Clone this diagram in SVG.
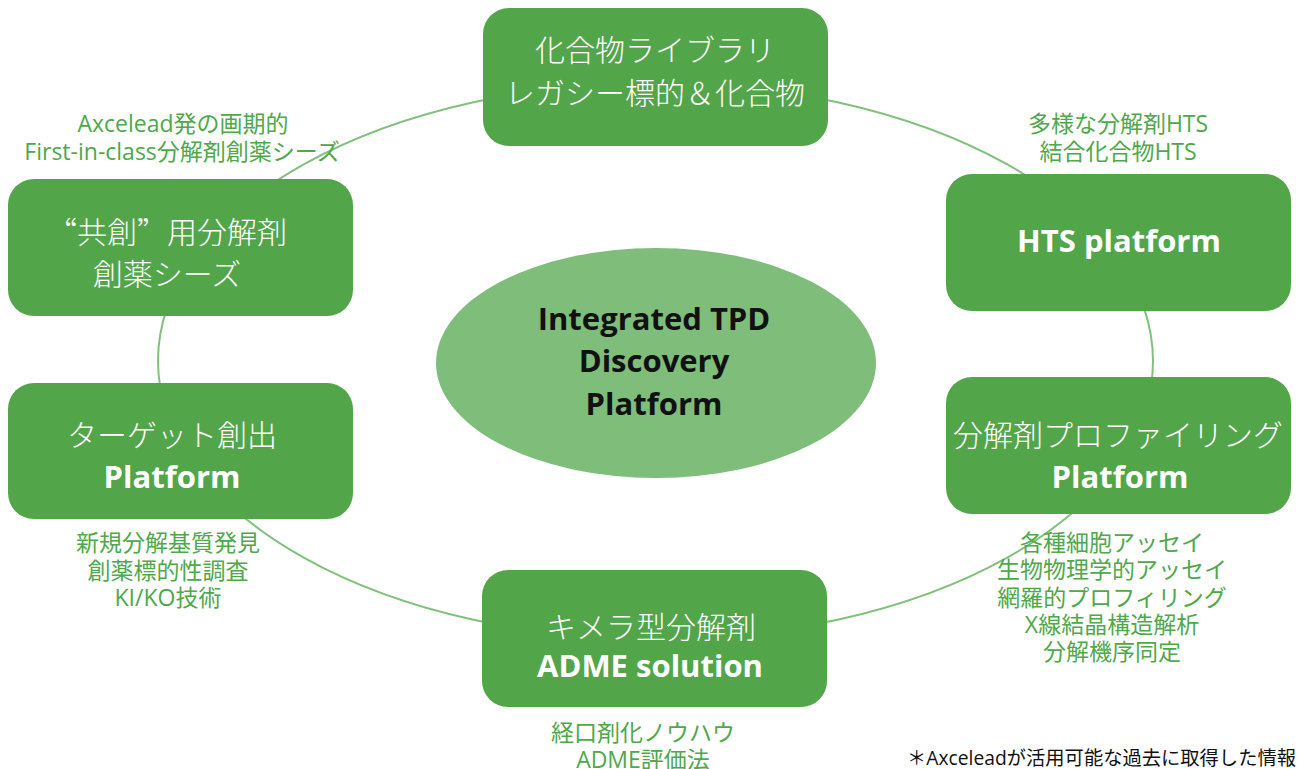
<svg xmlns="http://www.w3.org/2000/svg" width="1299" height="769" viewBox="0 0 1299 769">
  <style>
    .node { fill: #53a54a; }
    .ring { fill: none; stroke: #80c17c; stroke-width: 2; }
    .jp { font-family: "Noto Sans CJK JP", "Open Sans", sans-serif; font-weight: 300; font-size: 30px; fill: #ffffff; text-anchor: middle; }
    .fw { font-feature-settings: "fwid"; }
    .en { font-family: "Open Sans", "Noto Sans CJK JP", sans-serif; font-weight: 700; font-size: 31px; fill: #ffffff; text-anchor: middle; }
    .note { font-family: "Open Sans", "Noto Sans CJK JP", sans-serif; font-size: 23px; fill: #4fa84a; text-anchor: middle; }
    .hub { font-family: "Open Sans", sans-serif; font-weight: 700; font-size: 31px; fill: #111111; text-anchor: middle; }
    .foot { font-family: "Open Sans", "Noto Sans CJK JP", sans-serif; font-size: 19.3px; fill: #111111; text-anchor: end; }
  </style>

  <rect width="1299" height="769" fill="#ffffff"/>

  <!-- ring linking the six platforms -->
  <g id="connectors">
    <ellipse class="ring" cx="655.5" cy="361" rx="497.5" ry="278"/>
  </g>

  <!-- hub -->
  <g id="hub">
    <ellipse cx="656" cy="363" rx="220" ry="115" fill="#7ebd7a"/>
    <text class="hub" x="654" y="330">Integrated TPD</text>
    <text class="hub" x="654" y="372">Discovery</text>
    <text class="hub" x="654" y="415">Platform</text>
  </g>

  <g id="node-library">
    <rect class="node" x="483" y="8" width="345" height="138" rx="26"/>
    <text class="jp" x="655" y="61">化合物ライブラリ</text>
    <text class="jp" x="655" y="104">レガシー標的＆化合物</text>
  </g>

  <g id="node-hts">
    <rect class="node" x="946" y="174" width="345" height="137" rx="26"/>
    <text class="en" x="1119" y="252">HTS platform</text>
  </g>

  <g id="node-profiling">
    <rect class="node" x="946" y="377" width="345" height="137" rx="26"/>
    <text class="jp" x="1118" y="446">分解剤プロファイリング</text>
    <text class="en" x="1120" y="488">Platform</text>
  </g>

  <g id="node-adme">
    <rect class="node" x="482" y="570" width="345" height="137" rx="26"/>
    <text class="jp" x="651" y="638">キメラ型分解剤</text>
    <text class="en" x="650" y="677">ADME solution</text>
  </g>

  <g id="node-target">
    <rect class="node" x="8" y="383" width="345" height="136" rx="26"/>
    <text class="jp" x="172" y="446">ターゲット創出</text>
    <text class="en" x="172" y="488">Platform</text>
  </g>

  <g id="node-seeds">
    <rect class="node" x="8" y="179" width="345" height="137" rx="26"/>
    <text class="jp fw" x="167" y="243">“共創”用分解剤</text>
    <text class="jp" x="167" y="285">創薬シーズ</text>
  </g>

  <!-- annotations -->
  <g id="notes">
    <text class="note" x="183" y="132">Axcelead発の画期的</text>
    <text class="note" x="182" y="160">First-in-class分解剤創薬シーズ</text>

    <text class="note" x="1118" y="132">多様な分解剤HTS</text>
    <text class="note" x="1118" y="160">結合化合物HTS</text>

    <text class="note" x="168" y="551">新規分解基質発見</text>
    <text class="note" x="168" y="579">創薬標的性調査</text>
    <text class="note" x="168" y="606">KI/KO技術</text>

    <text class="note" x="1112" y="551">各種細胞アッセイ</text>
    <text class="note" x="1112" y="578">生物物理学的アッセイ</text>
    <text class="note" x="1112" y="606">網羅的プロフィリング</text>
    <text class="note" x="1112" y="633">X線結晶構造解析</text>
    <text class="note" x="1112" y="660">分解機序同定</text>

    <text class="note" x="643" y="741">経口剤化ノウハウ</text>
    <text class="note" x="643" y="768">ADME評価法</text>
  </g>

  <text class="foot" x="1296" y="765">＊Axceleadが活用可能な過去に取得した情報</text>
</svg>
